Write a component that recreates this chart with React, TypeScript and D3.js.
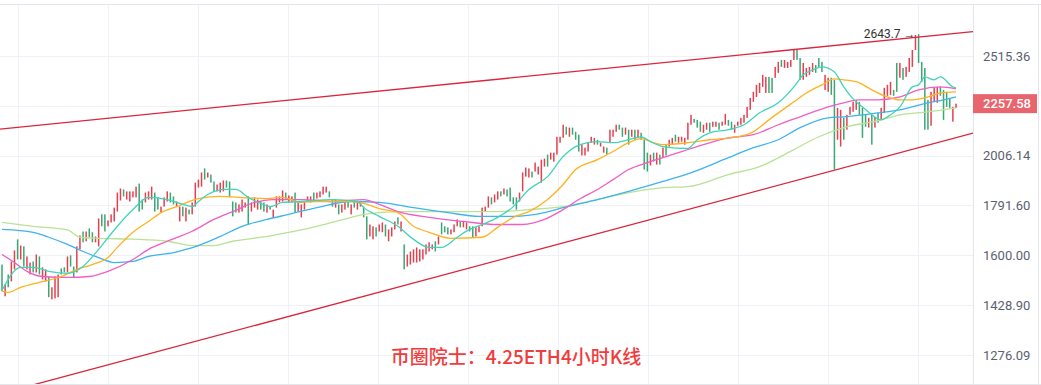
import { useMemo } from "react";
import * as d3 from "d3";

const WIDTH = 1041;
const HEIGHT = 385;
const PLOT = { left: 0, right: 973, top: 5, bottom: 384 };

// price axis (log)
const priceTicks = [2515.36, 2246.37, 2006.14, 1791.6, 1600.0, 1428.9, 1276.09];
const lastPrice = 2257.58;
const title = "币圈院士：4.25ETH4小时K线";

// [open, close] per 4h bar
const candles: [number, number][] = [
  [1567,1475],[1458,1498],[1532,1488],[1508,1578],[1550,1618],[1659,1585],[1585,1636],[1633,1560],[1550,1596],[1532,1574],
  [1578,1539],[1539,1603],[1596,1532],[1515,1557],[1508,1550],[1525,1455],[1448,1488],[1451,1525],[1455,1532],[1553,1532],
  [1557,1539],[1539,1596],[1600,1560],[1560,1522],[1539,1633],[1622,1674],[1689,1648],[1652,1689],[1701,1667],[1686,1648],
  [1648,1670],[1633,1740],[1756,1709],[1756,1689],[1709,1732],[1724,1756],[1728,1783],[1767,1845],[1812,1862],[1858,1829],
  [1816,1850],[1808,1850],[1825,1850],[1825,1870],[1883,1767],[1816,1775],[1804,1845],[1816,1850],[1816,1870],[1845,1767],
  [1825,1775],[1763,1787],
  [1787,1825],[1808,1850],[1845,1804],[1829,1796],[1787,1808],[1728,1787],[1787,1748],[1728,1783],[1775,1756],[1756,1804],
  [1787,1887],[1866,1900],[1870,1931],[1949,1900],[1909,1931],[1922,1887],[1892,1850],[1850,1879],[1845,1887],[1850,1896],
  [1896,1866],[1892,1825],[1808,1748],[1804,1763],[1763,1796],[1767,1816],[1783,1804],[1829,1716],[1767,1804],[1783,1825],
  [1775,1816],[1808,1775],[1804,1767],[1763,1796],[1787,1775],[1744,1775],[1783,1829],[1804,1829],[1808,1854],[1845,1816],
  [1804,1833],[1804,1829],[1845,1763],[1767,1804],[1744,1796],[1775,1808],[1808,1829],[1804,1829],[1845,1808],[1820,1845],
  [1825,1850],
  [1837,1870],[1845,1870],[1850,1825],[1816,1787],[1783,1816],[1796,1756],[1763,1796],[1775,1808],[1808,1783],[1756,1796],
  [1808,1783],[1775,1808],[1787,1808],[1787,1744],[1748,1659],[1670,1716],[1659,1709],[1705,1670],[1689,1716],[1686,1724],
  [1716,1670],[1652,1697],[1670,1705],[1697,1728],[1744,1716],[1689,1728],[1640,1550],[1560,1603],[1567,1614],[1574,1622],
  [1574,1629],[1578,1622],[1585,1622],[1603,1640],[1614,1648],[1622,1640],[1652,1614],[1640,1670],[1724,1678],[1709,1686],
  [1705,1678],[1678,1697],[1686,1716],[1709,1736],[1728,1705],[1705,1728],[1697,1724],[1709,1689],[1709,1667],[1670,1705],
  [1686,1709],
  [1709,1783],[1767,1787],[1783,1829],[1825,1796],[1804,1837],[1816,1850],[1850,1829],[1837,1862],[1858,1829],[1866,1808],
  [1825,1796],[1825,1775],[1808,1845],[1850,1931],[1913,1953],[1909,1949],[1935,1909],[1935,1975],[1922,1957],[1887,1988],
  [1957,1993],[2011,1957],[1988,2020],[1979,2020],[2011,2094],[2066,2094],[2089,2152],[2142,2104],[2094,2138],[2138,2104],
  [2118,2080],[2104,2025],[2007,2057],[2007,2043],[2025,2066],[2066,2094],[2057,2089],[2080,2057],[2048,2066],[2020,2048],
  [2043,2011],[2066,2128],[2094,2128],[2118,2152],[2152,2128],[2138,2094],[2104,2138],[2128,2057],[2094,2128],[2128,2080],
  [2089,2128],
  [2113,2080],[2080,1944],[2020,1935],[1962,2011],[2020,1979],[1966,2020],[2011,1966],[1997,2043],[2057,2007],[2048,2080],
  [2057,2089],[2104,2071],[2066,2094],[2071,2094],[2057,2089],[2080,2162],[2152,2201],[2181,2162],[2176,2138],[2167,2118],
  [2113,2152],[2128,2162],[2162,2118],[2142,2167],[2142,2167],[2162,2128],[2147,2167],[2152,2206],[2176,2147],[2167,2128],
  [2113,2152],[2147,2167],[2152,2186],[2162,2201],[2186,2241],[2226,2287],[2267,2319],[2292,2356],[2313,2367],[2345,2410],
  [2313,2399],[2399,2313],[2394,2313],[2394,2454],[2421,2482],[2493,2454],[2448,2493],[2448,2482],[2454,2493],[2493,2556],
  [2550,2493],
  [2504,2383],[2383,2476],[2399,2448],[2410,2454],[2426,2476],[2465,2421],[2504,2454],[2482,2426],[2329,2410],[2319,2394],
  [2394,2303],[2383,1944],[2080,2236],[2048,2226],[2186,2080],[2128,2201],[2201,2241],[2216,2267],[2226,2277],[2267,2201],
  [2236,2089],[2201,2142],[2138,2186],[2201,2057],[2138,2191],[2211,2162],[2176,2236],[2211,2340],[2298,2356],[2303,2372],
  [2329,2298],[2476,2319],[2394,2476],[2448,2383],[2399,2454],[2426,2504],[2454,2550],[2550,2638],[2643.7,2476],[2482,2372],
  [2448,2128],[2277,2128],[2147,2319],[2267,2340],[2262,2345],[2345,2298],[2329,2176],[2319,2241],[2287,2236],[2167,2241],
  [2236,2257.58],
];

// moving averages, sampled as [bar index, price]
const maCyan: [number, number][] = [
  [0,1478],[6,1557],[10,1557],[15,1543],[21,1536],[26,1560],[31,1622],[37,1709],[42,1775],[47,1825],[53,1816],[58,1796],
  [61,1787],[63,1808],[66,1837],[72,1858],[75,1858],[79,1825],[83,1800],[86,1787],[90,1804],[96,1808],[106,1816],[114,1808],
  [116,1783],[121,1748],[127,1709],[132,1659],[137,1629],[141,1629],[146,1667],[150,1697],[154,1716],[159,1744],[164,1787],
  [169,1858],[175,1913],[180,2002],[184,2048],[191,2071],[196,2066],[201,2080],[205,2094],[208,2071],[212,2048],[220,2039],
  [223,2080],[227,2113],[233,2128],[238,2152],[243,2211],[249,2262],[254,2345],[257,2410],[260,2437],[263,2454],[267,2426],
  [270,2345],[273,2282],[276,2241],[279,2201],[282,2176],[284,2191],[288,2241],[292,2345],[294,2356],[296,2399],[299,2383],
  [301,2399],[305,2345],[306,2340],
];
const maOrange: [number, number][] = [
  [0,1475],[2,1471],[6,1488],[12,1505],[19,1525],[24,1550],[29,1567],[34,1592],[37,1629],[42,1686],[47,1728],[51,1763],
  [56,1787],[63,1820],[70,1829],[76,1825],[85,1820],[90,1825],[96,1804],[101,1808],[112,1808],[116,1800],[121,1779],
  [127,1763],[132,1709],[137,1686],[144,1663],[154,1667],[159,1705],[164,1744],[169,1767],[175,1816],[180,1879],[184,1944],
  [191,1988],[196,2025],[201,2066],[205,2085],[209,2066],[212,2057],[220,2066],[227,2080],[236,2094],[241,2118],[246,2176],
  [254,2267],[258,2313],[263,2356],[267,2388],[270,2383],[275,2367],[279,2329],[284,2292],[288,2277],[292,2277],[297,2292],
  [301,2313],[306,2319],
];
const maPink: [number, number][] = [
  [0,1603],[4,1574],[8,1543],[13,1525],[21,1522],[28,1525],[34,1543],[42,1585],[47,1622],[53,1652],[61,1690],[68,1736],
  [74,1767],[81,1804],[87,1816],[96,1816],[106,1808],[116,1816],[121,1796],[127,1767],[137,1744],[148,1728],[159,1716],
  [167,1716],[174,1736],[180,1775],[185,1816],[191,1858],[196,1900],[201,1944],[207,1975],[212,1997],[222,2043],[233,2089],
  [241,2104],[249,2152],[256,2191],[265,2241],[270,2262],[275,2277],[281,2277],[288,2292],[294,2329],[301,2345],[306,2335],
];
const maBlue: [number, number][] = [
  [0,1697],[10,1686],[15,1667],[21,1640],[26,1614],[31,1592],[36,1574],[42,1578],[47,1596],[55,1610],[59,1622],[63,1636],
  [70,1670],[77,1709],[85,1736],[92,1756],[101,1783],[112,1808],[121,1804],[132,1783],[143,1763],[153,1748],[164,1748],
  [174,1763],[180,1783],[191,1816],[201,1850],[212,1892],[222,1935],[233,1997],[241,2043],[249,2080],[256,2138],[265,2186],
  [270,2191],[281,2211],[288,2226],[297,2262],[302,2277],[306,2292],
];
const maGreen: [number, number][] = [
  [0,1724],[10,1709],[21,1695],[25,1667],[31,1663],[42,1660],[53,1652],[61,1636],[68,1636],[74,1652],[85,1670],[92,1686],
  [101,1709],[112,1744],[116,1756],[127,1767],[137,1767],[148,1767],[159,1767],[169,1775],[180,1787],[191,1816],[201,1845],
  [212,1866],[220,1870],[233,1922],[243,1957],[254,2034],[262,2094],[270,2138],[281,2172],[288,2201],[297,2216],[306,2236],
];

// channel lines: [bar index, price] anchors
const upperTrend: [number, number][] = [[0, 2132], [306, 2648]];
const lowerTrend: [number, number][] = [[0, 1170], [306, 2090]];

const UP = "#e5404f";
const DOWN = "#3aa775";
const maSeries = [
  { data: maGreen, color: "#b8e296" },
  { data: maBlue, color: "#3db4ee" },
  { data: maPink, color: "#f05ec4" },
  { data: maOrange, color: "#ffb21e" },
  { data: maCyan, color: "#40d4b8" },
];

const Chart = () => {
  const x = useMemo(
    () => d3.scaleLinear().domain([0, candles.length - 1]).range([2, 956]),
    []
  );
  const y = useMemo(
    () => d3.scaleLog().domain([1276.09, 2515.36]).range([355, 56]),
    []
  );

  const line = d3
    .line<[number, number]>()
    .x((d) => x(d[0]))
    .y((d) => y(d[1]))
    .curve(d3.curveMonotoneX);

  // extend a trend line over the plot width
  const trendPath = (pts: [number, number][]) => {
    const x1 = x(pts[0][0]), y1 = y(pts[0][1]);
    const x2 = x(pts[1][0]), y2 = y(pts[1][1]);
    const k = (y2 - y1) / (x2 - x1);
    const a = PLOT.left, b = PLOT.right;
    return `M${a},${y1 + k * (a - x1)}L${b},${y1 + k * (b - x1)}`;
  };

  let peakIdx = 0;
  let peak = 0;
  candles.forEach((c, i) => {
    const hi = Math.max(c[0], c[1]);
    if (hi > peak) {
      peak = hi;
      peakIdx = i;
    }
  });

  const lastY = y(lastPrice);
  const font = "Roboto, 'Noto Sans', sans-serif";

  return (
    <svg
      width={WIDTH}
      height={HEIGHT}
      style={{ position: "absolute", left: 0, top: 0, background: "#fff" }}
    >
      <defs>
        <clipPath id="plot">
          <rect x={PLOT.left} y={PLOT.top} width={PLOT.right - PLOT.left} height={PLOT.bottom - PLOT.top} />
        </clipPath>
      </defs>

      {/* grid */}
      <g stroke="#eef1f5" strokeWidth={1}>
        {priceTicks.map((t) => (
          <line key={t} x1={PLOT.left} x2={PLOT.right} y1={Math.round(y(t)) + 0.5} y2={Math.round(y(t)) + 0.5} />
        ))}
        {d3.range(18, PLOT.right, 90).map((gx) => (
          <line key={gx} x1={gx + 0.5} x2={gx + 0.5} y1={PLOT.top} y2={PLOT.bottom} />
        ))}
      </g>
      <g stroke="#e3e6eb" strokeWidth={1}>
        <line x1={0} x2={WIDTH} y1={4.5} y2={4.5} />
        <line x1={0} x2={WIDTH} y1={384.5} y2={384.5} />
        <line x1={PLOT.right + 0.5} x2={PLOT.right + 0.5} y1={4} y2={385} />
        <line x1={1038.5} x2={1038.5} y1={4} y2={385} />
      </g>

      <g clipPath="url(#plot)">
        {/* candles */}
        {candles.map((c, i) => {
          const up = c[1] >= c[0];
          const top = y(Math.max(c[0], c[1]));
          const bot = y(Math.min(c[0], c[1]));
          return (
            <rect
              key={i}
              x={x(i) - 0.75}
              y={top}
              width={1.5}
              height={Math.max(1, bot - top)}
              fill={up ? UP : DOWN}
            />
          );
        })}

        {/* moving averages */}
        {maSeries.map((s, i) => (
          <path key={i} d={line(s.data) || ""} fill="none" stroke={s.color} strokeWidth={1.3} />
        ))}

        {/* channel */}
        <path d={trendPath(upperTrend)} stroke="#d9263c" strokeWidth={1.3} fill="none" />
        <path d={trendPath(lowerTrend)} stroke="#d9263c" strokeWidth={1.3} fill="none" />
      </g>

      {/* peak annotation */}
      <text
        x={x(peakIdx) - 3}
        y={y(peak) + 4}
        textAnchor="end"
        fontFamily={font}
        fontSize={12}
        fill="#333"
      >
        {`${peak} →`}
      </text>

      {/* price axis */}
      <g fontFamily={font} fontSize={13} fill="#5b6170">
        {priceTicks
          .filter((t) => Math.abs(y(t) - lastY) > 14)
          .map((t) => (
            <text key={t} x={983} y={y(t)} dominantBaseline="central">
              {t.toFixed(2)}
            </text>
          ))}
      </g>
      <rect x={973} y={lastY - 9.5} width={64} height={19} fill="#e9656d" />
      <text
        x={983}
        y={lastY}
        dominantBaseline="central"
        fontFamily={font}
        fontSize={13}
        fontWeight={500}
        fill="#fff"
      >
        {lastPrice.toFixed(2)}
      </text>

      {/* title */}
      <text
        x={516}
        y={364}
        textAnchor="middle"
        fontFamily="'Noto Sans CJK SC', sans-serif"
        fontSize={19}
        fontWeight={500}
        fill="#f03c3c"
      >
        {title}
      </text>
    </svg>
  );
};

export default function App() {
  return <Chart />;
}
